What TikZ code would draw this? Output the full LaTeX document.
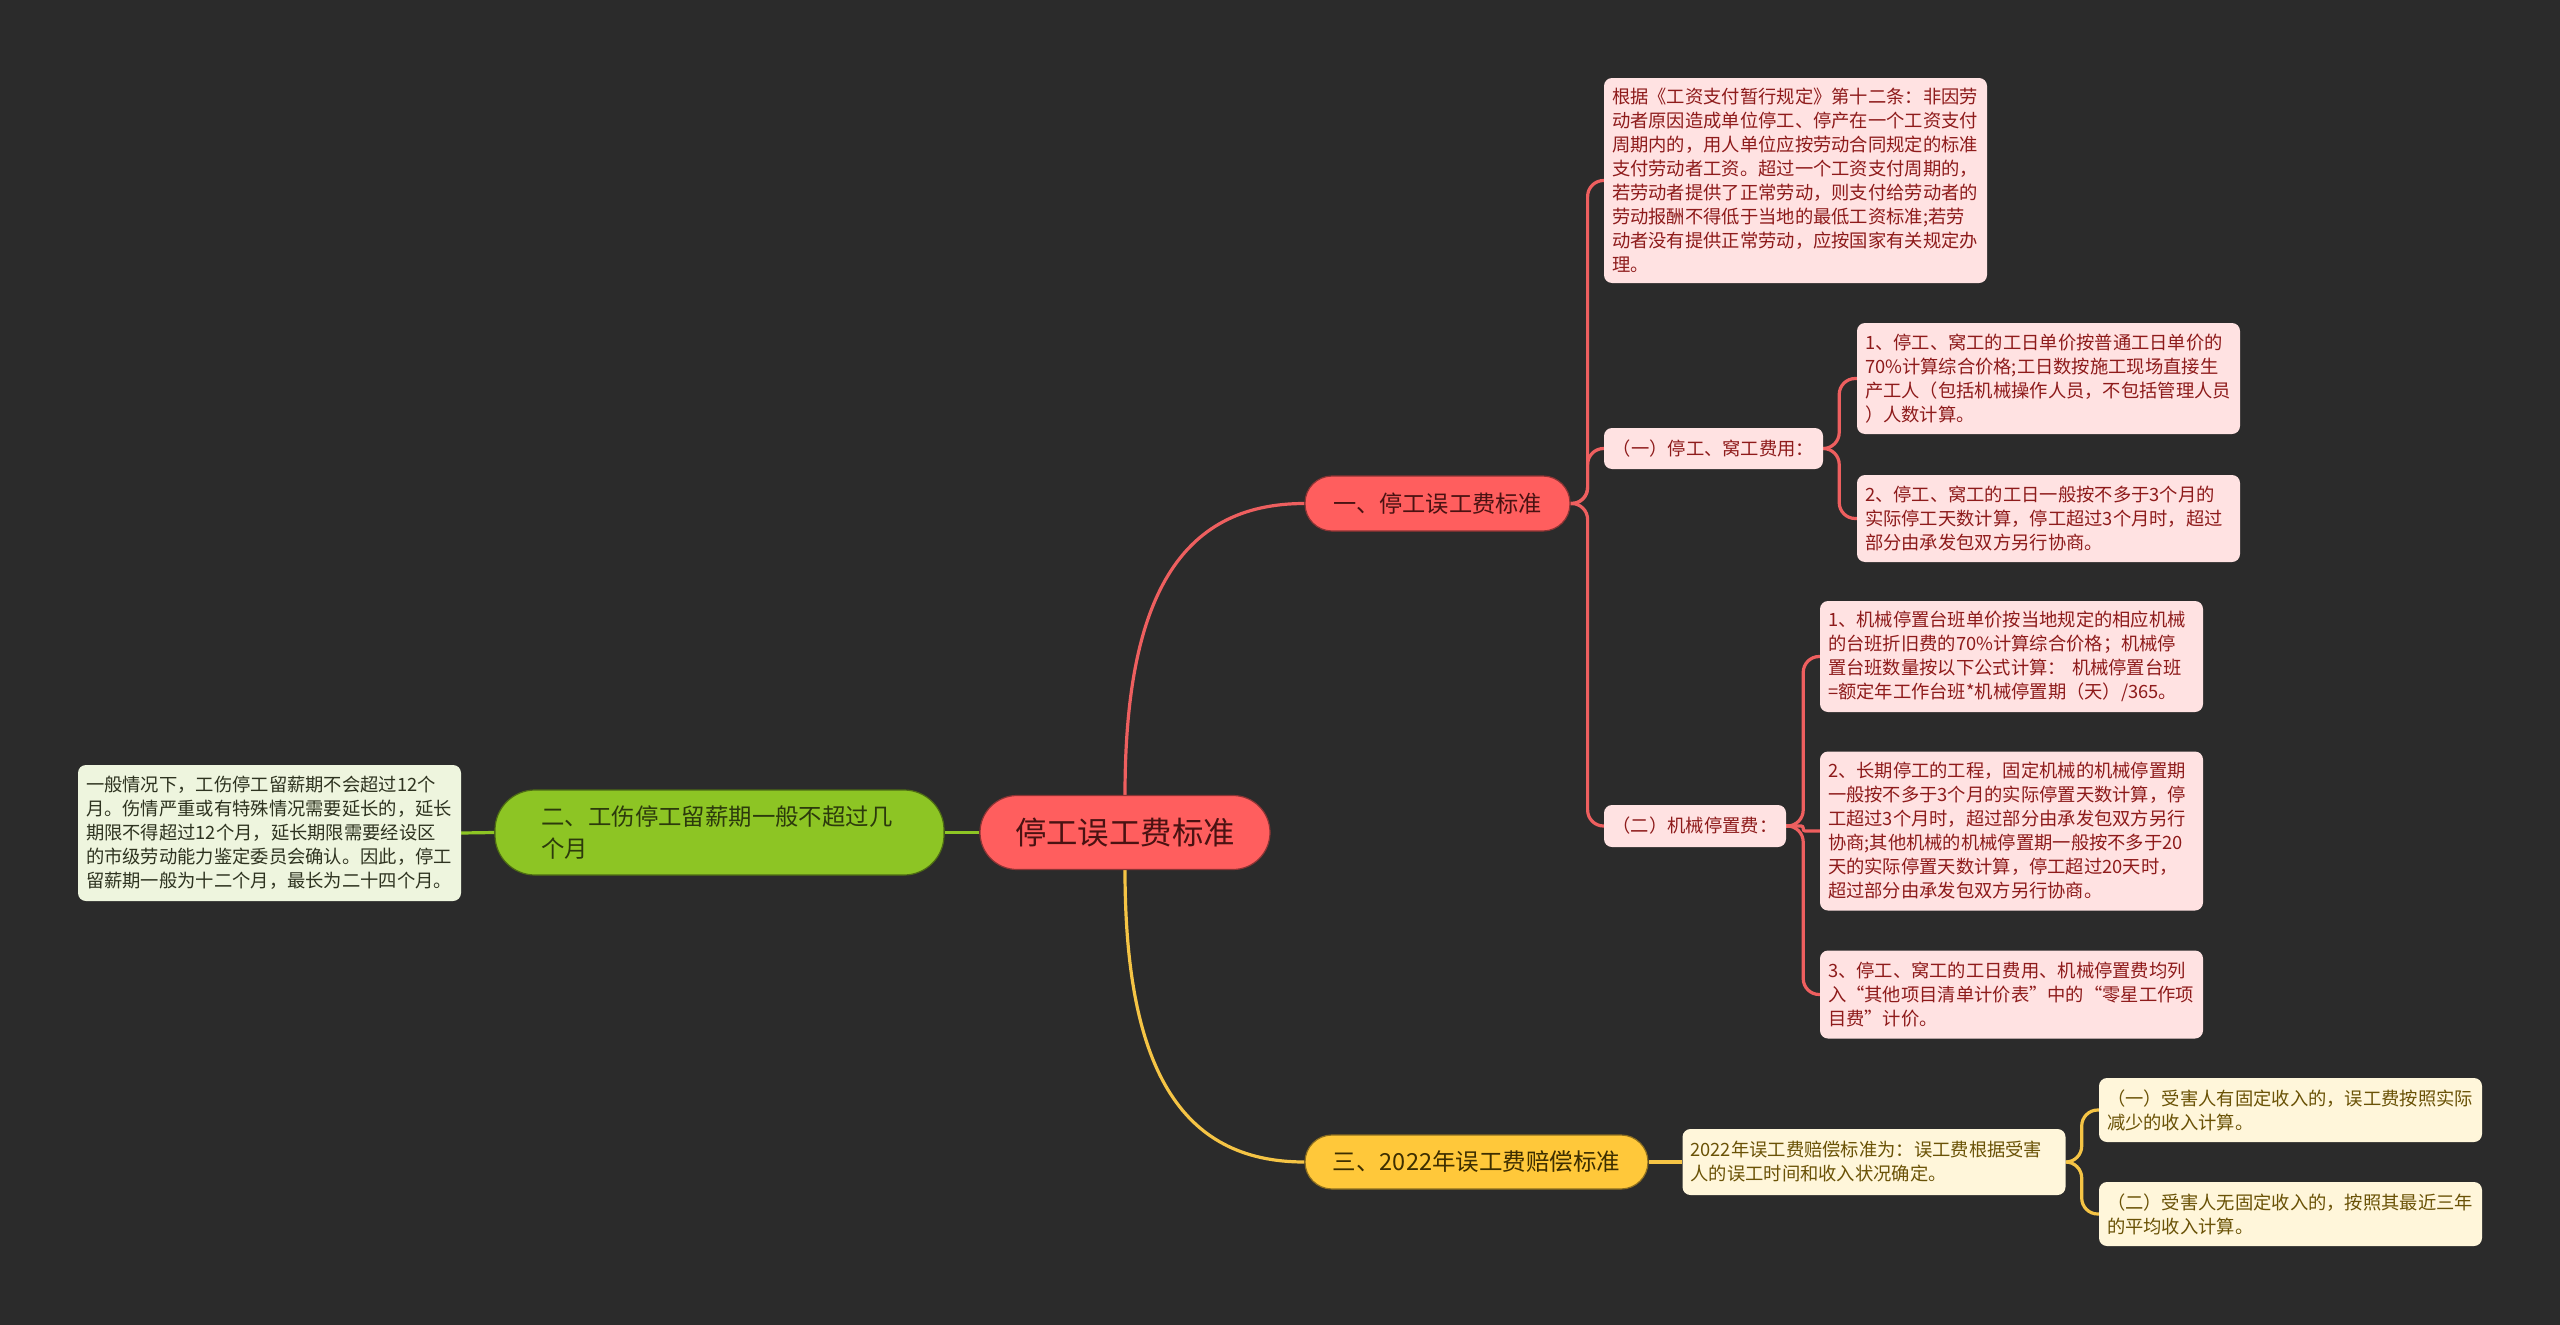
\documentclass[tikz,border=0pt]{standalone}
\usepackage{fontspec}
\setmainfont{Noto Sans CJK SC}
\usetikzlibrary{calc}
\definecolor{bgc}{HTML}{2B2B2B}
\definecolor{cred}{HTML}{FF5E5E}
\definecolor{credline}{HTML}{EE5F5F}
\definecolor{credtext}{HTML}{4A1212}
\definecolor{pinkfill}{HTML}{FFE2E2}
\definecolor{pinktext}{HTML}{8E1B1B}
\definecolor{cgreen}{HTML}{8DC524}
\definecolor{greentext}{HTML}{2C3A0C}
\definecolor{gleaffill}{HTML}{EEF5DE}
\definecolor{gleaftext}{HTML}{2E3320}
\definecolor{cyellow}{HTML}{FFC83A}
\definecolor{yline}{HTML}{F5C445}
\definecolor{ytext}{HTML}{3D2E00}
\definecolor{yleaffill}{HTML}{FFF6DA}
\definecolor{yleaftext}{HTML}{6A5206}
\pgfdeclarelayer{bgl}
\pgfdeclarelayer{lines}
\pgfsetlayers{bgl,lines,main}
\begin{document}
\begin{tikzpicture}[x=1pt,y=-1pt,
  leafbase/.style={rectangle, rounded corners=8pt, inner xsep=8pt, inner ysep=3pt,
    font=\fontsize{18.3}{24}\selectfont, align=left},
  wide/.style={text width=367pt},
  pinkleaf/.style={leafbase, fill=pinkfill, text=pinktext},
  gleaf/.style={leafbase, fill=gleaffill, text=gleaftext},
  yleaf/.style={leafbase, fill=yleaffill, text=yleaftext},
  pill/.style={rectangle, inner sep=0pt, line width=1.2pt, align=center},
  redline/.style={draw=credline, line width=3.2pt},
  greenline/.style={draw=cgreen, line width=3.2pt},
  yelline/.style={draw=yline, line width=3.2pt},
  rc/.style={rounded corners=16pt}
]
\useasboundingbox (0,0) rectangle (2560,1325);
\begin{pgfonlayer}{bgl}
\fill[bgc] (0,0) rectangle (2560,1325);
\end{pgfonlayer}

% central
\node[pill, fill=cred, draw=cred!55!black, text=credtext, rounded corners=37pt,
  minimum width=290pt, minimum height=74pt, font=\fontsize{31.4}{36}\selectfont]
  (c) at (1125,832.5) {停工误工费标准};

% branches
\node[pill, fill=cred, draw=cred!55!black, text=credtext, rounded corners=27pt,
  minimum width=265pt, minimum height=55pt, font=\fontsize{23.2}{28}\selectfont]
  (b1) at (1437.5,503.5) {一、停工误工费标准};
\node[pill, fill=cgreen, draw=cgreen!55!black, text=greentext, rounded corners=40pt,
  minimum width=449pt, minimum height=85pt, text width=356pt, align=left,
  font=\fontsize{23.4}{32}\selectfont]
  (b2) at (719.5,832.5) {二、工伤停工留薪期一般不超过几\\个月};
\node[pill, fill=cyellow, draw=cyellow!55!black, text=ytext, rounded corners=27pt,
  minimum width=343pt, minimum height=54pt, font=\fontsize{23.5}{28}\selectfont]
  (b3) at (1476.5,1162) {三、2022年误工费赔偿标准};

% branch 1 leaves
\node[pinkleaf, wide, minimum height=205pt] (t1) at (1795.5,180.5) {根据《工资支付暂行规定》第十二条：非因劳\\动者原因造成单位停工、停产在一个工资支付\\周期内的，用人单位应按劳动合同规定的标准\\支付劳动者工资。超过一个工资支付周期的，\\若劳动者提供了正常劳动，则支付给劳动者的\\劳动报酬不得低于当地的最低工资标准;若劳\\动者没有提供正常劳动，应按国家有关规定办\\理。};
\node[pinkleaf, align=center, minimum width=219pt, minimum height=41pt] (g1) at (1713.5,448.5) {（一）停工、窝工费用：};
\node[pinkleaf, wide, minimum height=111pt] (g1a) at (2048.5,378.5) {1、停工、窝工的工日单价按普通工日单价的\\70\%计算综合价格;工日数按施工现场直接生\\产工人（包括机械操作人员，不包括管理人员\\）人数计算。};
\node[pinkleaf, wide, minimum height=87pt] (g1b) at (2048.5,518.5) {2、停工、窝工的工日一般按不多于3个月的\\实际停工天数计算，停工超过3个月时，超过\\部分由承发包双方另行协商。};
\node[pinkleaf, align=center, minimum width=182pt, minimum height=42pt] (g2) at (1695,826) {（二）机械停置费：};
\node[pinkleaf, wide, minimum height=111pt] (g2a) at (2011.5,656.5) {1、机械停置台班单价按当地规定的相应机械\\的台班折旧费的70\%计算综合价格；机械停\\置台班数量按以下公式计算： 机械停置台班\\=额定年工作台班*机械停置期（天）/365。};
\node[pinkleaf, wide, minimum height=159pt] (g2b) at (2011.5,831) {2、长期停工的工程，固定机械的机械停置期\\一般按不多于3个月的实际停置天数计算，停\\工超过3个月时，超过部分由承发包双方另行\\协商;其他机械的机械停置期一般按不多于20\\天的实际停置天数计算，停工超过20天时，\\超过部分由承发包双方另行协商。};
\node[pinkleaf, wide, minimum height=88pt] (g2c) at (2011.5,994.5) {3、停工、窝工的工日费用、机械停置费均列\\入“其他项目清单计价表”中的“零星工作项\\目费”计价。};

% branch 2 leaf
\node[gleaf, wide, minimum height=136pt] (gL) at (269.5,833) {一般情况下，工伤停工留薪期不会超过12个\\月。伤情严重或有特殊情况需要延长的，延长\\期限不得超过12个月，延长期限需要经设区\\的市级劳动能力鉴定委员会确认。因此，停工\\留薪期一般为十二个月，最长为二十四个月。};

% branch 3 leaves
\node[yleaf, wide, minimum height=66pt] (y1) at (1874,1162) {2022年误工费赔偿标准为：误工费根据受害\\人的误工时间和收入状况确定。};
\node[yleaf, wide, minimum height=64pt] (y1a) at (2290.5,1110) {（一）受害人有固定收入的，误工费按照实际\\减少的收入计算。};
\node[yleaf, wide, minimum height=64pt] (y1b) at (2290.5,1214) {（二）受害人无固定收入的，按照其最近三年\\的平均收入计算。};

\begin{pgfonlayer}{lines}
\draw[redline] (c.north) .. controls +(0,-196) and +(-125,0) .. (b1.west);
\draw[yelline] (c.south) .. controls +(0,196) and +(-125,0) .. (b3.west);
\draw[greenline] (c.west) -- (b2.east);
\draw[greenline] (b2.west) -- (gL.east);
\draw[redline, rc] (b1.east) -- ++(17,0) |- (t1.west);
\draw[redline, rc] (b1.east) -- ++(17,0) |- (g1.west);
\draw[redline, rc] (b1.east) -- ++(17,0) |- (g2.west);
\draw[redline, rc] (g1.east) -- ++(16,0) |- (g1a.west);
\draw[redline, rc] (g1.east) -- ++(16,0) |- (g1b.west);
\draw[redline, rc] (g2.east) -- ++(17,0) |- (g2a.west);
\draw[redline, rounded corners=2pt] (g2.east) -- ++(17,0) |- (g2b.west);
\draw[redline, rc] (g2.east) -- ++(17,0) |- (g2c.west);
\draw[yelline] (b3.east) -- (y1.west);
\draw[yelline, rc] (y1.east) -- ++(16,0) |- (y1a.west);
\draw[yelline, rc] (y1.east) -- ++(16,0) |- (y1b.west);
\end{pgfonlayer}
\end{tikzpicture}
\end{document}
